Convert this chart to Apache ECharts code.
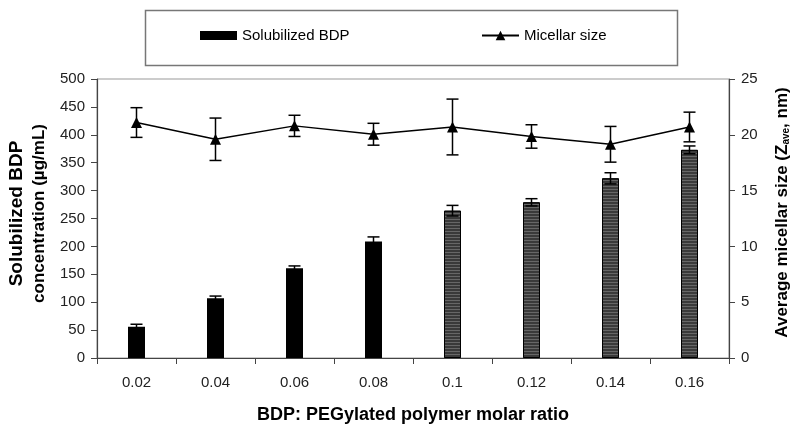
<!DOCTYPE html>
<html>
<head>
<meta charset="utf-8">
<script src="https://cdn.jsdelivr.net/npm/echarts@6/dist/echarts.min.js"></script>
<style>html,body{margin:0;padding:0;background:#fff}#c{width:799px;height:432px}</style>
</head>
<body>
<div id="c"></div>
<script>
var categories = ['0.02','0.04','0.06','0.08','0.1','0.12','0.14','0.16'];
var bdpValues = [56, 107, 161, 209, 264, 279, 322, 373];
var bdpErrors = [4.5, 4, 4, 8, 9.5, 6.5, 10, 7];
var sizeValues = [21.1, 19.6, 20.8, 20.05, 20.7, 19.85, 19.15, 20.7];
var sizeErrors = [1.33, 1.9, 0.95, 0.98, 2.5, 1.05, 1.6, 1.33];
var leftTicks = [0, 500, 50];
var rightTicks = [0, 25, 5];

var font = 'Liberation Sans, Arial, sans-serif';
var chart = echarts.init(document.getElementById('c'), null, {renderer: 'canvas'});

function errRender(vals, errs) {
  return function (params, api) {
    var i = api.value(0);
    var v = vals[i], e = errs[i];
    var top = api.coord([i, v + e]);
    var bot = api.coord([i, v - e]);
    var half = 6;
    var st = {stroke: '#000', lineWidth: 1.5};
    return {
      type: 'group',
      children: [
        {type: 'line', shape: {x1: top[0], y1: top[1], x2: bot[0], y2: bot[1]}, style: st},
        {type: 'line', shape: {x1: top[0] - half, y1: top[1], x2: top[0] + half, y2: top[1]}, style: st},
        {type: 'line', shape: {x1: bot[0] - half, y1: bot[1], x2: bot[0] + half, y2: bot[1]}, style: st}
      ]
    };
  };
}

var stripe = {
  symbol: 'rect', symbolSize: 1, dashArrayX: [1, 0], dashArrayY: [1, 2],
  color: 'rgba(140,140,140,0.55)', rotation: 0
};

var barData = bdpValues.map(function (v, i) {
  if (i >= 4) {
    return {value: v, itemStyle: {color: '#3a3a3a', borderColor: '#000', borderWidth: 1, decal: stripe}};
  }
  return {value: v, itemStyle: {color: '#000'}};
});

var option = {
  animation: false,
  backgroundColor: '#fff',
  textStyle: {fontFamily: font},
  grid: {left: 97, right: 70, top: 79, bottom: 74, show: true, borderColor: '#999', borderWidth: 1,
         containLabel: false, outerBoundsMode: 'none'},
  legend: [
    {data: [{name: 'Solubilized BDP', icon: 'rect'}], left: 200, top: 28, padding: 0, itemWidth: 37, itemHeight: 9,
     textStyle: {fontFamily: font, fontSize: 15, color: '#000'}},
    {data: ['Micellar size'], left: 481, top: 28, padding: 0, itemWidth: 37, itemHeight: 12,
     textStyle: {fontFamily: font, fontSize: 15, color: '#000'}}
  ],
  graphic: [
    {type: 'rect', left: 143, top: 8, shape: {width: 532, height: 55},
     style: {fill: 'none', stroke: '#777', lineWidth: 1.5}, z: 0}
  ],
  xAxis: {
    type: 'category', data: categories, boundaryGap: true,
    axisLine: {lineStyle: {color: '#444', width: 1.2}},
    axisTick: {show: true, length: 6, lineStyle: {color: '#444'}},
    axisLabel: {fontFamily: font, fontSize: 15, color: '#222', margin: 17},
    name: 'BDP: PEGylated polymer molar ratio', nameLocation: 'middle', nameGap: 48,
    nameTextStyle: {fontFamily: font, fontSize: 18, fontWeight: 'bold', color: '#000'}
  },
  yAxis: [
    {
      type: 'value', min: leftTicks[0], max: leftTicks[1], interval: leftTicks[2],
      axisLine: {show: true, lineStyle: {color: '#444', width: 1.2}},
      axisTick: {show: true, length: 6, lineStyle: {color: '#444'}},
      splitLine: {show: false},
      axisLabel: {fontFamily: font, fontSize: 15, color: '#222', margin: 12},
      name: '{a|Solubilized BDP}\n{b|concentration (µg/mL)}', nameLocation: 'middle', nameGap: 47, nameRotate: 90,
      nameTextStyle: {fontFamily: font, fontWeight: 'bold', color: '#000', padding: [0, 0, 0, 10],
        rich: {
          a: {fontFamily: font, fontSize: 19, fontWeight: 'bold', color: '#000', lineHeight: 22},
          b: {fontFamily: font, fontSize: 17, fontWeight: 'bold', color: '#000', lineHeight: 22}
        }}
    },
    {
      type: 'value', min: rightTicks[0], max: rightTicks[1], interval: rightTicks[2], position: 'right',
      axisLine: {show: true, lineStyle: {color: '#444', width: 1.2}},
      axisTick: {show: true, length: 6, lineStyle: {color: '#444'}},
      splitLine: {show: false},
      axisLabel: {fontFamily: font, fontSize: 15, color: '#222', margin: 12},
      name: 'Average micellar size (Z{sub|ave}, nm)', nameLocation: 'middle', nameGap: 44, nameRotate: 90,
      nameTextStyle: {fontFamily: font, fontSize: 17, fontWeight: 'bold', color: '#000', padding: [0, 0, 0, 12],
        rich: {sub: {fontFamily: font, fontSize: 10, fontWeight: 'bold', verticalAlign: 'bottom', padding: [8, 0, 0, 0]}}}
    }
  ],
  series: [
    {name: 'Solubilized BDP', type: 'bar', yAxisIndex: 0, barWidth: 17, data: barData,
     itemStyle: {color: '#000'}, z: 2},
    {name: 'bdpErr', type: 'custom', yAxisIndex: 0, renderItem: errRender(bdpValues, bdpErrors),
     data: categories.map(function (c, i) { return [i]; }), z: 3, silent: true},
    {name: 'Micellar size', type: 'line', yAxisIndex: 1, data: sizeValues,
     symbol: 'triangle', symbolSize: 11, lineStyle: {color: '#000', width: 1.5},
     itemStyle: {color: '#000'}, z: 5},
    {name: 'sizeErr', type: 'custom', yAxisIndex: 1, renderItem: errRender(sizeValues, sizeErrors),
     data: categories.map(function (c, i) { return [i]; }), z: 4, silent: true}
  ]
};
chart.setOption(option);
</script>
</body>
</html>
